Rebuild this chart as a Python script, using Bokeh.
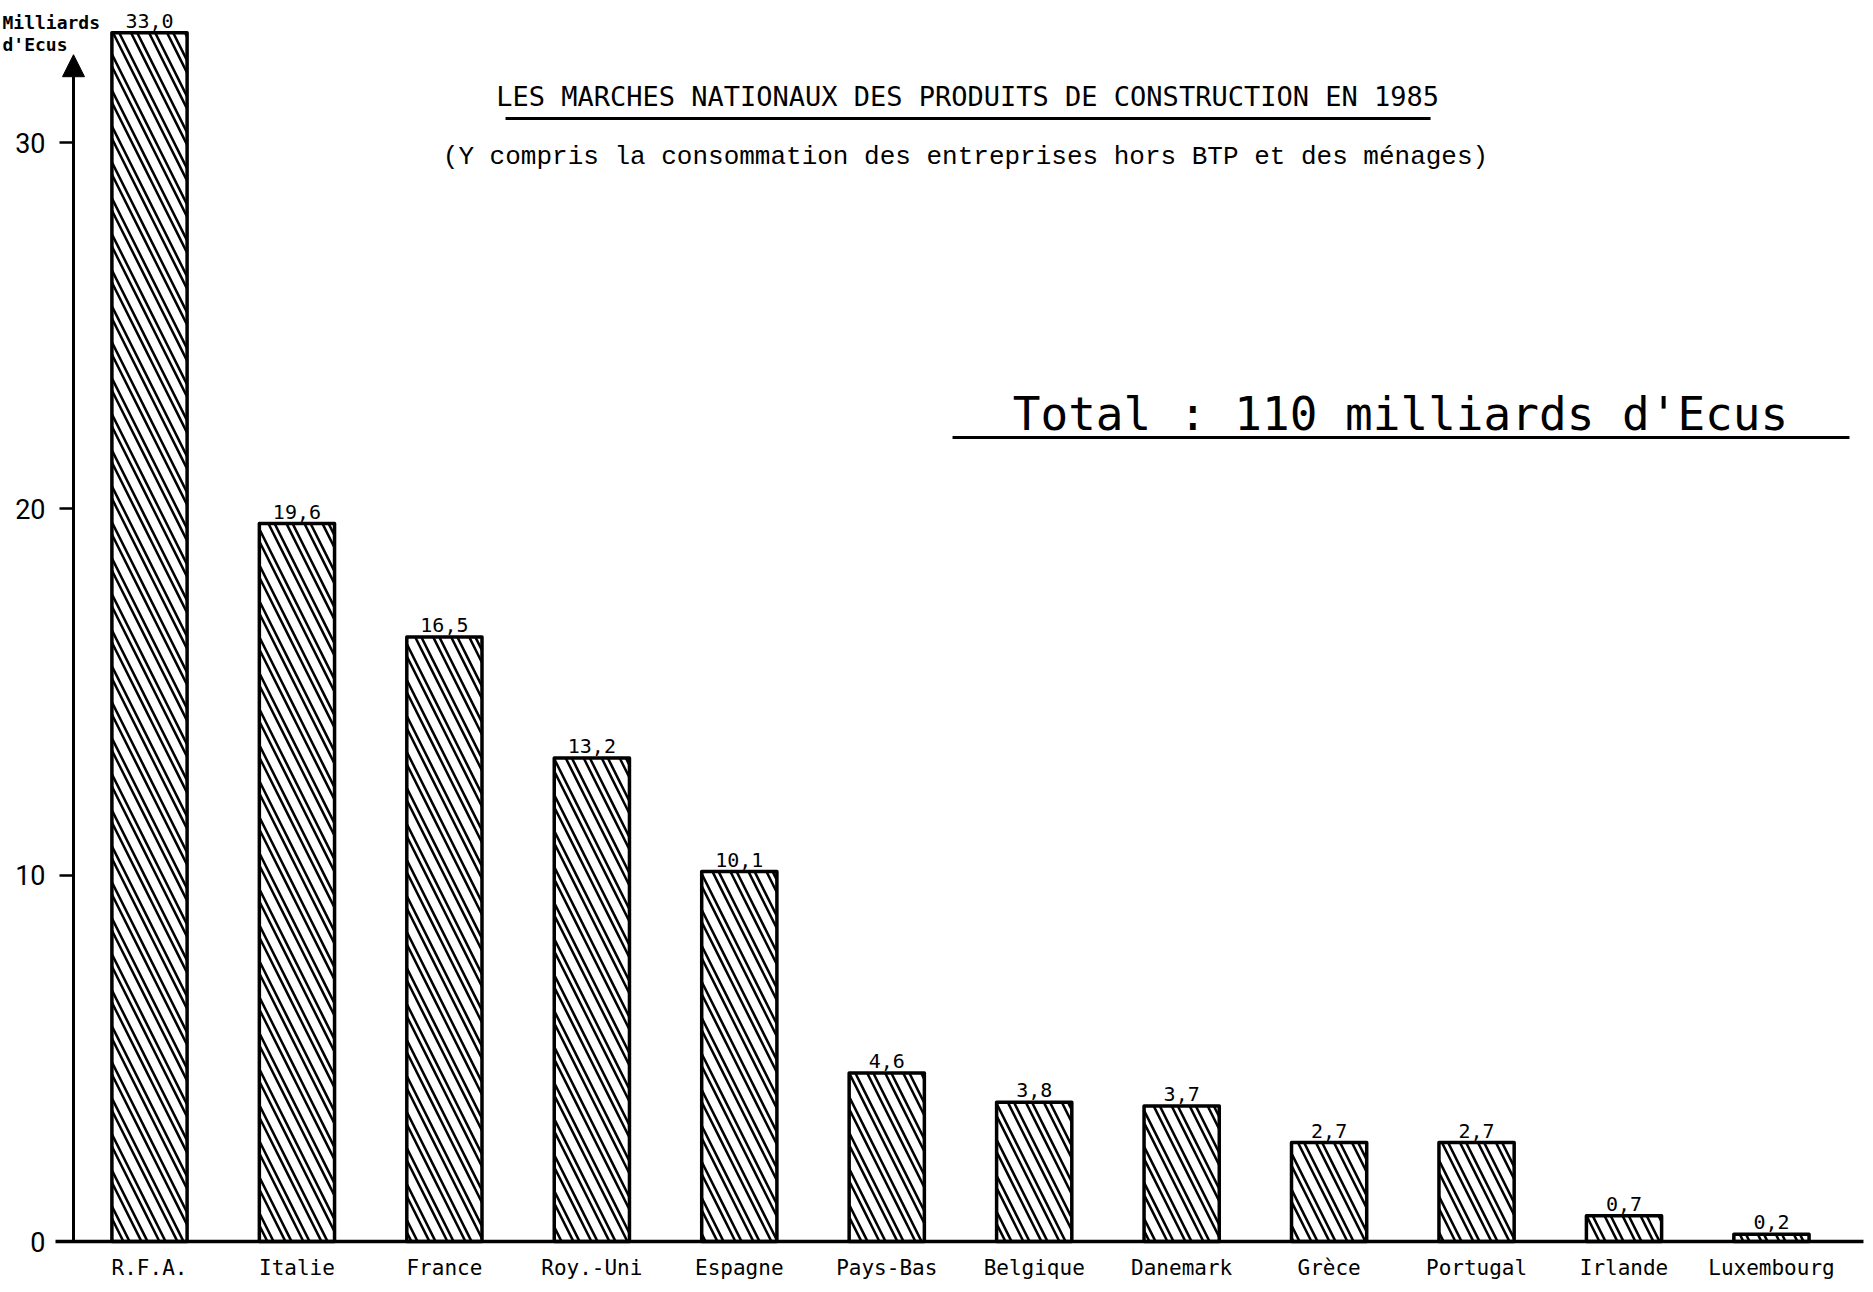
from bokeh.plotting import figure
from bokeh.models import (ColumnDataSource, Range1d, FixedTicker, LinearAxis,
                          LabelSet, Label, Arrow, NormalHead)
from bokeh.core.properties import value
from bokeh.embed import file_html
from bokeh.resources import INLINE

# Marchés nationaux des produits de construction, 1985 (milliards d'Ecus)
pays = ["R.F.A.", "Italie", "France", "Roy.-Uni", "Espagne", "Pays-Bas",
        "Belgique", "Danemark", "Grèce", "Portugal", "Irlande", "Luxembourg"]
marches = [33.0, 19.6, 16.5, 13.2, 10.1, 4.6, 3.8, 3.7, 2.7, 2.7, 0.7, 0.2]
graduations = [0, 10, 20, 30]

titre = "LES MARCHES NATIONAUX DES PRODUITS DE CONSTRUCTION EN 1985"
sous_titre = "(Y compris la consommation des entreprises hors BTP et des ménages)"
total = "Total : 110 milliards d'Ecus"
unite = ["Milliards", "d'Ecus"]

rang = list(range(len(pays)))
etiquettes = [f"{v:.1f}".replace(".", ",") for v in marches]
src = ColumnDataSource(dict(rang=rang, valeur=marches, texte=etiquettes))

# le cadre occupe toute la page ; les axes sont posés dedans
p = figure(width=1873, height=1292,
           x_range=Range1d(-1.0105, 11.692),
           y_range=Range1d(-1.392, 33.88),
           x_axis_location=None, y_axis_location=None,
           output_backend="svg", toolbar_location=None,
           min_border_left=0, min_border_right=0,
           min_border_top=0, min_border_bottom=0)

p.background_fill_color = "white"
p.border_fill_color = "white"
p.outline_line_color = None
p.xgrid.visible = False
p.ygrid.visible = False

# axe vertical
axe_y = LinearAxis(fixed_location=-0.5154,
                   ticker=FixedTicker(ticks=graduations, minor_ticks=[]))
axe_y.axis_line_color = None
axe_y.major_tick_out = 14
axe_y.major_tick_in = 0
axe_y.minor_tick_out = 0
axe_y.minor_tick_in = 0
axe_y.major_tick_line_width = 2.5
axe_y.major_tick_line_color = "black"
axe_y.major_label_text_font = "Roboto"
axe_y.major_label_text_font_size = "27px"
axe_y.major_label_text_color = "black"
axe_y.major_label_standoff = 14
p.add_layout(axe_y, "left")

# axe horizontal : un libellé par pays
axe_x = LinearAxis(fixed_location=0,
                   ticker=FixedTicker(ticks=rang, minor_ticks=[]),
                   major_label_overrides=dict(zip(rang, pays)))
axe_x.axis_line_color = None
axe_x.major_tick_out = 0
axe_x.major_tick_in = 0
axe_x.minor_tick_out = 0
axe_x.minor_tick_in = 0
axe_x.major_label_text_font = "DejaVu Sans Mono"
axe_x.major_label_text_font_size = "21px"
axe_x.major_label_text_color = "black"
axe_x.major_label_standoff = 14
p.add_layout(axe_x, "below")

# barres hachurées : traits noirs épais évidés d'un trait blanc -> double trait
p.vbar(x="rang", top="valeur", width=0.51, source=src,
       fill_color="white", line_color=None,
       hatch_pattern="\\", hatch_scale=36, hatch_weight=8, hatch_color="black")
p.vbar(x="rang", top="valeur", width=0.51, source=src,
       fill_color=None, line_color="black", line_width=3.5, line_join="round",
       hatch_pattern="\\", hatch_scale=36, hatch_weight=3, hatch_color="white")

p.add_layout(LabelSet(x="rang", y="valeur", text="texte", source=src,
                      y_offset=5, text_align="center", text_baseline="bottom",
                      text_font=value("DejaVu Sans Mono"),
                      text_font_size=value("20px"), text_color="black"))

# ligne de base et flèche de l'axe vertical
p.add_layout(Arrow(x_start=-0.6375, y_start=0, x_end=11.624, y_end=0,
                   line_width=3.5, line_color="black", start=None, end=None))
p.add_layout(Arrow(x_start=-0.5154, y_start=0, x_end=-0.5154, y_end=32.4,
                   line_width=3, line_color="black", start=None,
                   end=NormalHead(size=22, fill_color="black",
                                  line_color="black")))

# unité
for ligne, yy in zip(unite, [33.28, 32.68]):
    p.add_layout(Label(x=-0.997, y=yy, text=ligne, text_align="left",
                       text_baseline="middle", text_font="DejaVu Sans Mono",
                       text_font_style="bold", text_font_size="18px",
                       text_color="black"))

# titres
p.add_layout(Label(x=5.548, y=31.26, text=titre, text_align="center",
                   text_baseline="middle", text_font="DejaVu Sans Mono",
                   text_font_size="27px", text_color="black"))
p.add_layout(Arrow(x_start=2.4144, y_start=30.66, x_end=8.688, y_end=30.66,
                   start=None, end=None, line_width=3, line_color="black"))
p.add_layout(Label(x=5.534, y=29.62, text=sous_titre, text_align="center",
                   text_baseline="middle", text_font="Liberation Mono",
                   text_font_size="26px", text_color="black"))

p.add_layout(Label(x=8.484, y=22.58, text=total, text_align="center",
                   text_baseline="middle", text_font="DejaVu Sans Mono",
                   text_font_size="46px", text_color="black"))
p.add_layout(Arrow(x_start=5.446, y_start=21.95, x_end=11.529, y_end=21.95,
                   start=None, end=None, line_width=3, line_color="black"))

open("out.html", "w").write(file_html(p, INLINE))
